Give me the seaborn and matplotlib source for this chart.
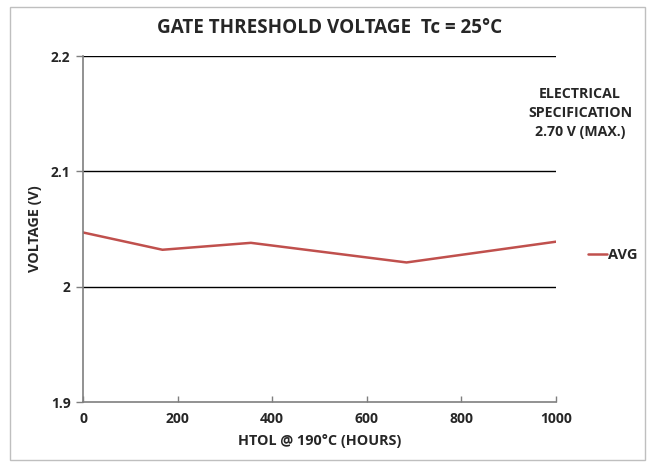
import matplotlib
matplotlib.use("Agg")
import matplotlib.pyplot as plt
import seaborn as sns
import pandas as pd

hours = [0, 168, 355, 684, 1000]
avg_voltage = [2.047, 2.032, 2.038, 2.021, 2.039]
y_ticks = [1.9, 2.0, 2.1, 2.2]
y_tick_labels = ["1.9", "2", "2.1", "2.2"]
x_ticks = [0, 200, 400, 600, 800, 1000]

sns.set_theme(style="white")
plt.rcParams["font.family"] = ["Open Sans", "DejaVu Sans"]
plt.rcParams["font.weight"] = "bold"

df = pd.DataFrame({"hours": hours, "AVG": avg_voltage})

fig = plt.figure(figsize=(6.55, 4.66), dpi=100)
ax = fig.add_axes([83 / 655, 1 - 402 / 466, (556 - 83) / 655, (402 - 56) / 466])

sns.lineplot(data=df, x="hours", y="AVG", ax=ax, color="#C0504D", linewidth=1.8,
             label="AVG", legend=False)

ax.set_xlim(0, 1000)
ax.set_ylim(1.9, 2.2)
ax.set_xticks(x_ticks)
ax.set_xticklabels([str(v) for v in x_ticks], fontsize=10, fontweight="bold")
ax.set_yticks(y_ticks)
ax.set_yticklabels(y_tick_labels, fontsize=10, fontweight="bold")

for y in y_ticks[1:]:
    ax.axhline(y, color="black", linewidth=1.0, zorder=0)

for side in ("top", "right"):
    ax.spines[side].set_visible(False)
for side in ("left", "bottom"):
    ax.spines[side].set_color("#7f7f7f")
    ax.spines[side].set_linewidth(1.2)

ax.tick_params(axis="y", direction="out", length=5, width=1, color="#7f7f7f", pad=4,
               left=True)
ax.tick_params(axis="x", direction="in", length=4, width=1, color="#7f7f7f", pad=7,
               bottom=True)

ax.set_xlabel("HTOL @ 190°C (HOURS)", fontsize=10.4, fontweight="bold", labelpad=6)
ax.set_ylabel("VOLTAGE (V)", fontsize=10.4, fontweight="bold", labelpad=6)

fig.text(330 / 655, 1 - 28 / 466, "GATE THRESHOLD VOLTAGE  Tc = 25°C",
         ha="center", va="center", fontsize=13.6, fontweight="bold")

fig.text(580 / 655, 1 - 113 / 466, "ELECTRICAL\nSPECIFICATION\n2.70 V (MAX.)",
         ha="center", va="center", fontsize=10.2, fontweight="bold", linespacing=1.45)

ax.legend(loc="center left", bbox_to_anchor=(1.068, 0.425), frameon=False,
          prop={"weight": "bold", "size": 10.5}, handlelength=1.3, handletextpad=0.05,
          borderaxespad=0, borderpad=0)

fig.patches.append(plt.Rectangle((10 / 655, 1 - 460 / 466), 635 / 655, 453 / 466,
                                 transform=fig.transFigure, fill=False,
                                 edgecolor="#bfbfbf", linewidth=1.0))

fig.savefig("out.png", dpi=100)
